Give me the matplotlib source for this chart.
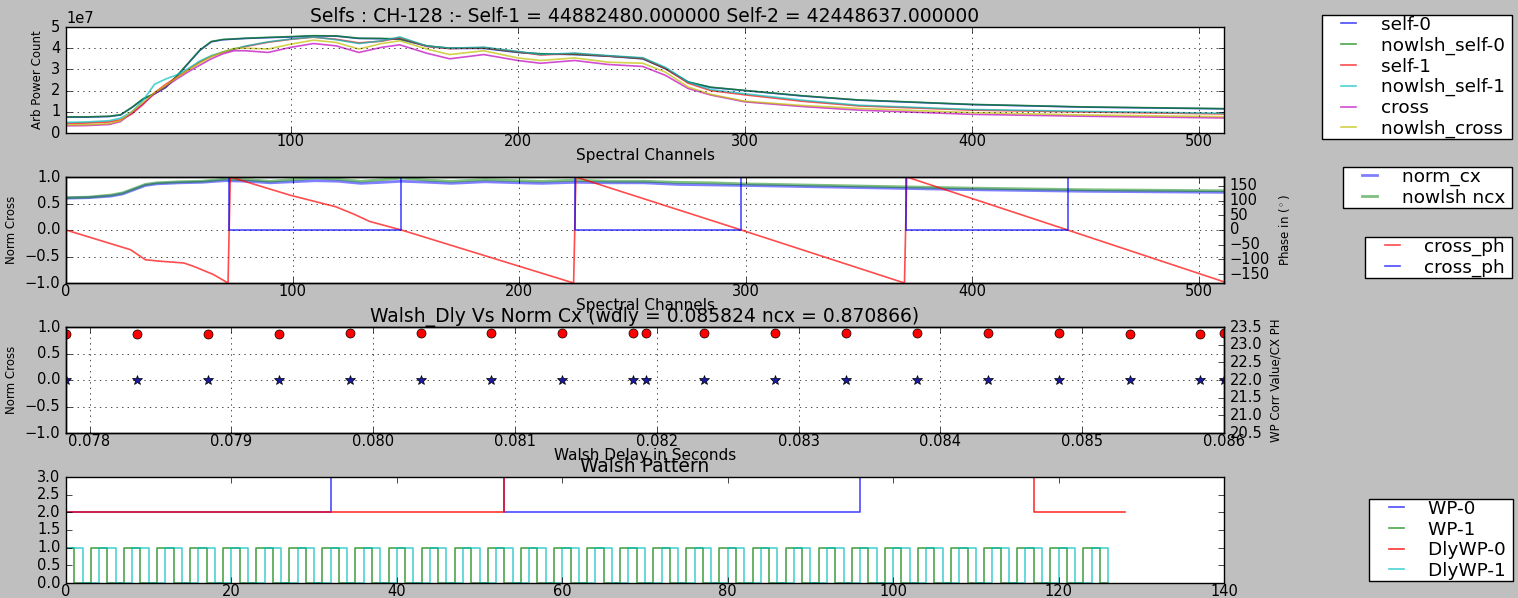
import numpy as np
import matplotlib
matplotlib.use("Agg")
import matplotlib.pyplot as plt
from matplotlib.lines import Line2D
from matplotlib.legend_handler import HandlerLine2D

plt.style.use("classic")
plt.rcParams["font.family"] = ["DejaVu Sans"]
plt.rcParams["xtick.labelsize"] = 10.5
plt.rcParams["ytick.labelsize"] = 10.5
plt.rcParams["xtick.major.pad"] = 1.0

# ---------------- Panel 1 : selfs (values in units of 1e7) ----------------
SCALE = 1e7
CH = [1, 10, 20, 25, 30, 35, 40, 45, 50, 55, 60, 65, 70, 75, 80, 90, 100, 110, 120, 130,
      140, 148, 160, 170, 185, 200, 210, 225, 240, 255, 265, 275, 285, 300, 325, 350, 400, 450, 511]
SELF0 = [0.75, 0.75, 0.78, 0.85, 1.2, 1.6, 1.85, 2.15, 2.7, 3.3, 3.9, 4.3, 4.4, 4.43, 4.46, 4.5, 4.53, 4.58, 4.57, 4.46,
         4.45, 4.42, 4.1, 3.99, 3.99, 3.8, 3.73, 3.7, 3.62, 3.5, 3.03, 2.4, 2.15, 2.0, 1.75, 1.55, 1.34, 1.22, 1.14]
NW_SELF0 = [0.76, 0.76, 0.79, 0.86, 1.21, 1.62, 1.86, 2.17, 2.72, 3.32, 3.92, 4.32, 4.41, 4.44, 4.47, 4.51, 4.55, 4.59, 4.58, 4.47,
            4.46, 4.44, 4.11, 4.0, 4.01, 3.81, 3.74, 3.71, 3.63, 3.51, 3.04, 2.41, 2.16, 2.01, 1.76, 1.56, 1.35, 1.23, 1.15]
SELF1 = [0.45, 0.47, 0.52, 0.62, 0.9, 1.35, 1.9, 2.3, 2.65, 3.0, 3.35, 3.62, 3.8, 3.95, 4.08, 4.28, 4.42, 4.52, 4.42, 4.25,
         4.33, 4.5, 4.08, 3.98, 4.03, 3.83, 3.68, 3.75, 3.63, 3.53, 3.05, 2.35, 2.0, 1.8, 1.5, 1.28, 1.08, 0.99, 0.9]
NW_SELF1 = [0.5, 0.52, 0.58, 0.7, 1.0, 1.55, 2.3, 2.55, 2.75, 3.05, 3.4, 3.65, 3.82, 3.96, 4.1, 4.3, 4.43, 4.53, 4.4, 4.22,
            4.35, 4.53, 4.1, 4.0, 4.05, 3.85, 3.7, 3.77, 3.65, 3.55, 3.1, 2.4, 2.05, 1.85, 1.55, 1.31, 1.11, 1.02, 0.93]
CROSS = [0.34, 0.35, 0.4, 0.54, 0.95, 1.4, 1.85, 2.2, 2.56, 2.9, 3.2, 3.5, 3.73, 3.88, 3.88, 3.8, 4.04, 4.22, 4.11, 3.8,
         4.04, 4.16, 3.76, 3.5, 3.7, 3.42, 3.29, 3.42, 3.23, 3.14, 2.72, 2.1, 1.79, 1.47, 1.25, 1.08, 0.88, 0.79, 0.71]
NW_CROSS = [0.38, 0.39, 0.44, 0.58, 1.0, 1.45, 1.9, 2.25, 2.62, 2.98, 3.3, 3.6, 3.82, 3.99, 4.0, 3.96, 4.19, 4.38, 4.27, 3.96,
            4.22, 4.35, 3.96, 3.7, 3.88, 3.54, 3.42, 3.54, 3.34, 3.29, 2.87, 2.17, 1.82, 1.5, 1.3, 1.16, 0.96, 0.85, 0.77]
SELF_LABELS = ["self-0", "nowlsh_self-0", "self-1", "nowlsh_self-1", "cross", "nowlsh_cross"]

# ---------------- Panel 2 : normalised cross and phase ----------------
NCX_CH = [0, 10, 20, 25, 30, 35, 40, 50, 60, 70, 80, 90, 100, 110, 120, 130, 140, 148, 160, 170, 185,
          200, 210, 225, 240, 255, 270, 285, 300, 350, 400, 450, 511]
NORM_CX = [0.60, 0.61, 0.64, 0.68, 0.76, 0.84, 0.87, 0.89, 0.9, 0.93, 0.92, 0.89, 0.91, 0.93, 0.92, 0.88, 0.9, 0.92, 0.9,
           0.88, 0.91, 0.89, 0.88, 0.9, 0.89, 0.89, 0.86, 0.85, 0.84, 0.8, 0.76, 0.73, 0.71]
NW_NCX = [0.61, 0.62, 0.66, 0.70, 0.78, 0.86, 0.89, 0.91, 0.92, 0.96, 0.95, 0.92, 0.95, 0.98, 0.96, 0.92, 0.95, 0.98, 0.94,
          0.92, 0.95, 0.93, 0.92, 0.94, 0.92, 0.92, 0.9, 0.89, 0.87, 0.83, 0.79, 0.76, 0.74]
PH_CH = [0, 28.5, 35, 41.5, 52, 56.5, 65, 71.5, 72.5, 99, 119, 127, 134, 148, 224, 225, 298, 370, 371, 442, 511]
PH_DEG = [0, -67, -101, -106, -112, -124, -151, -180, 180, 118, 79, 54, 29, 0, -180, 180, 0, -180, 180, 0, -176]
PH2_CH = [0, 72, 148, 224.5, 298, 370.5, 442, 511]
PH2_DEG = [180, 0, 180, 0, 180, 0, 180, 180]

# ---------------- Panel 3 : walsh delay vs norm cx ----------------
WDLY = [0.077834, 0.078334, 0.078834, 0.079334, 0.079834, 0.080334, 0.080834, 0.081334, 0.081834, 0.081924,
        0.082334, 0.082834, 0.083334, 0.083834, 0.084334, 0.084834, 0.085334, 0.085834, 0.086000]
WNCX = [0.875, 0.875, 0.875, 0.875, 0.89, 0.89, 0.89, 0.89, 0.89, 0.89,
        0.89, 0.895, 0.88, 0.88, 0.88, 0.88, 0.87, 0.87, 0.88]
WCORR = [22.0, 22.0, 22.0, 22.0, 22.0, 22.0, 22.0, 22.0, 22.0, 22.0,
         22.0, 22.0, 22.0, 22.0, 22.0, 22.0, 22.0, 22.0, 22.0]

# ---------------- Panel 4 : walsh pattern ----------------
WP0_X = [0, 32, 53, 96, 128]
WP0_Y = [2, 3, 2, 3, 3]
DWP0_X = [0, 53, 117, 128]
DWP0_Y = [2, 3, 2, 2]
WP1_BITS = ("10011001100110011001100110011001"
            "10011001100110011001100110011001"
            "10011001100110011001100110011001"
            "1001100110011001100110011001"
            "100")
DWP1_BITS = ("11001100110011001100110011001100"
             "11001100110011001100110011001100"
             "11001100110011001100110011001100"
             "1100110011001100110011001100"
             "110")
WP1 = [int(c) for c in WP1_BITS]
DWP1 = [int(c) for c in DWP1_BITS]
WP_IDX = list(range(len(WP1)))

# ---------------- layout ----------------
FW, FH = 1518, 598
fig = plt.figure(figsize=(FW / 100, FH / 100), dpi=100)
L, W, H = 66 / FW, 1158 / FW, 106 / FH


def rect(top_px):
    return [L, 1 - (top_px + 106) / FH, W, H]


TITLE_FS = 13.5
TITLE_PAD = 3.5
XL_FS = 11
XL_PAD = -1
YL_FS = 8.5
LEG_FS = 13.3
leg_kw = dict(fontsize=LEG_FS, handlelength=2.1, handletextpad=1.05, labelspacing=0.144,
              borderpad=0.05, borderaxespad=0, bbox_transform=fig.transFigure, loc="upper right",
              handler_map={Line2D: HandlerLine2D(xpad=0.7)})


def lab(s):
    # trailing space gives the right-hand margin seen inside the legend frames
    return s + " "


# Panel 1
ax1 = fig.add_axes(rect(27))
cols = ["b", "g", "r", "c", "m", "y"]
series = [SELF0, NW_SELF0, SELF1, NW_SELF1, CROSS, NW_CROSS]
for s, c, name in zip(series, cols, SELF_LABELS):
    ax1.plot(CH, np.array(s) * SCALE, color=c, alpha=0.7, lw=1.2, label=lab(name))
ax1.set_xlim(1, 511)
ax1.set_ylim(0, 5e7)
ax1.grid(True)
ax1.set_title("Selfs : CH-128 :- Self-1 = 44882480.000000 Self-2 = 42448637.000000",
              fontsize=TITLE_FS, pad=TITLE_PAD)
ax1.set_xlabel("Spectral Channels", fontsize=XL_FS, labelpad=XL_PAD)
ax1.set_ylabel("Arb Power Count", fontsize=YL_FS)
ax1.legend(bbox_to_anchor=(1512 / FW, 1 - 15 / FH), **leg_kw)

# Panel 2
ax2 = fig.add_axes(rect(177))
ax2.plot(NCX_CH, NORM_CX, color="b", alpha=0.5, lw=2, label=lab("norm_cx"))
ax2.plot(NCX_CH, NW_NCX, color="g", alpha=0.5, lw=2, label=lab("nowlsh ncx"))
ax2.set_xlim(0, 511)
ax2.set_ylim(-1, 1)
ax2.grid(True)
ax2.set_xlabel("Spectral Channels", fontsize=XL_FS, labelpad=XL_PAD)
ax2.set_ylabel("Norm Cross", fontsize=YL_FS)
ax2.legend(bbox_to_anchor=(1512 / FW, 1 - 167 / FH), **leg_kw)
ax2b = ax2.twinx()
ax2b.plot(PH_CH, PH_DEG, color="r", alpha=0.7, lw=1.2, label=lab("cross_ph"))
ax2b.plot(PH2_CH, PH2_DEG, color="b", alpha=0.7, lw=1.2, drawstyle="steps-post", label=lab("cross_ph"))
ax2b.set_xlim(0, 511)
ax2b.set_ylim(-180, 180)
ax2b.set_yticks([-150, -100, -50, 0, 50, 100, 150])
ax2b.set_ylabel(r"Phase in ($^\circ$)", fontsize=YL_FS)
ax2b.legend(bbox_to_anchor=(1512 / FW, 1 - 237 / FH), **leg_kw)

# Panel 3
ax3 = fig.add_axes(rect(327))
ax3.plot(WDLY, WNCX, "o", color="r", markeredgecolor="k", markersize=6.5)
ax3.set_xlim(WDLY[0], WDLY[-1])
ax3.set_ylim(-1, 1)
ax3.set_xticks([0.078, 0.079, 0.080, 0.081, 0.082, 0.083, 0.084, 0.085, 0.086])
ax3.set_xticklabels(["0.078", "0.079", "0.080", "0.081", "0.082", "0.083", "0.084", "0.085", "0.086"])
ax3.grid(True)
ax3.set_title("Walsh_Dly Vs Norm Cx (wdly = 0.085824 ncx = 0.870866)", fontsize=TITLE_FS, pad=TITLE_PAD)
ax3.set_xlabel("Walsh Delay in Seconds", fontsize=XL_FS, labelpad=XL_PAD)
ax3.set_ylabel("Norm Cross", fontsize=YL_FS)
ax3b = ax3.twinx()
ax3b.plot(WDLY, WCORR, "*", color="#1a1aa0", markeredgecolor="k", markersize=7)
ax3b.set_xlim(WDLY[0], WDLY[-1])
ax3b.set_ylim(20.5, 23.5)
ax3b.set_yticks([20.5, 21.0, 21.5, 22.0, 22.5, 23.0, 23.5])
ax3b.set_ylabel("WP Corr Value/CX PH", fontsize=YL_FS)

# Panel 4
ax4 = fig.add_axes(rect(477))
ax4.plot(WP0_X, WP0_Y, color="b", alpha=0.7, lw=1.2, drawstyle="steps-post", label=lab("WP-0"))
ax4.plot(WP_IDX, WP1, color="g", alpha=0.7, lw=1.2, drawstyle="steps-post", label=lab("WP-1"))
ax4.plot(DWP0_X, DWP0_Y, color="r", alpha=0.8, lw=1.2, drawstyle="steps-post", label=lab("DlyWP-0"))
ax4.plot(WP_IDX, DWP1, color="c", alpha=0.7, lw=1.2, drawstyle="steps-post", label=lab("DlyWP-1"))
ax4.set_xlim(0, 140)
ax4.set_ylim(0, 3)
ax4.set_title("Walsh Pattern", fontsize=TITLE_FS, pad=TITLE_PAD)
ax4.legend(bbox_to_anchor=(1513 / FW, 1 - 499 / FH), **leg_kw)

fig.savefig("out.png", dpi=100, facecolor=fig.get_facecolor())
